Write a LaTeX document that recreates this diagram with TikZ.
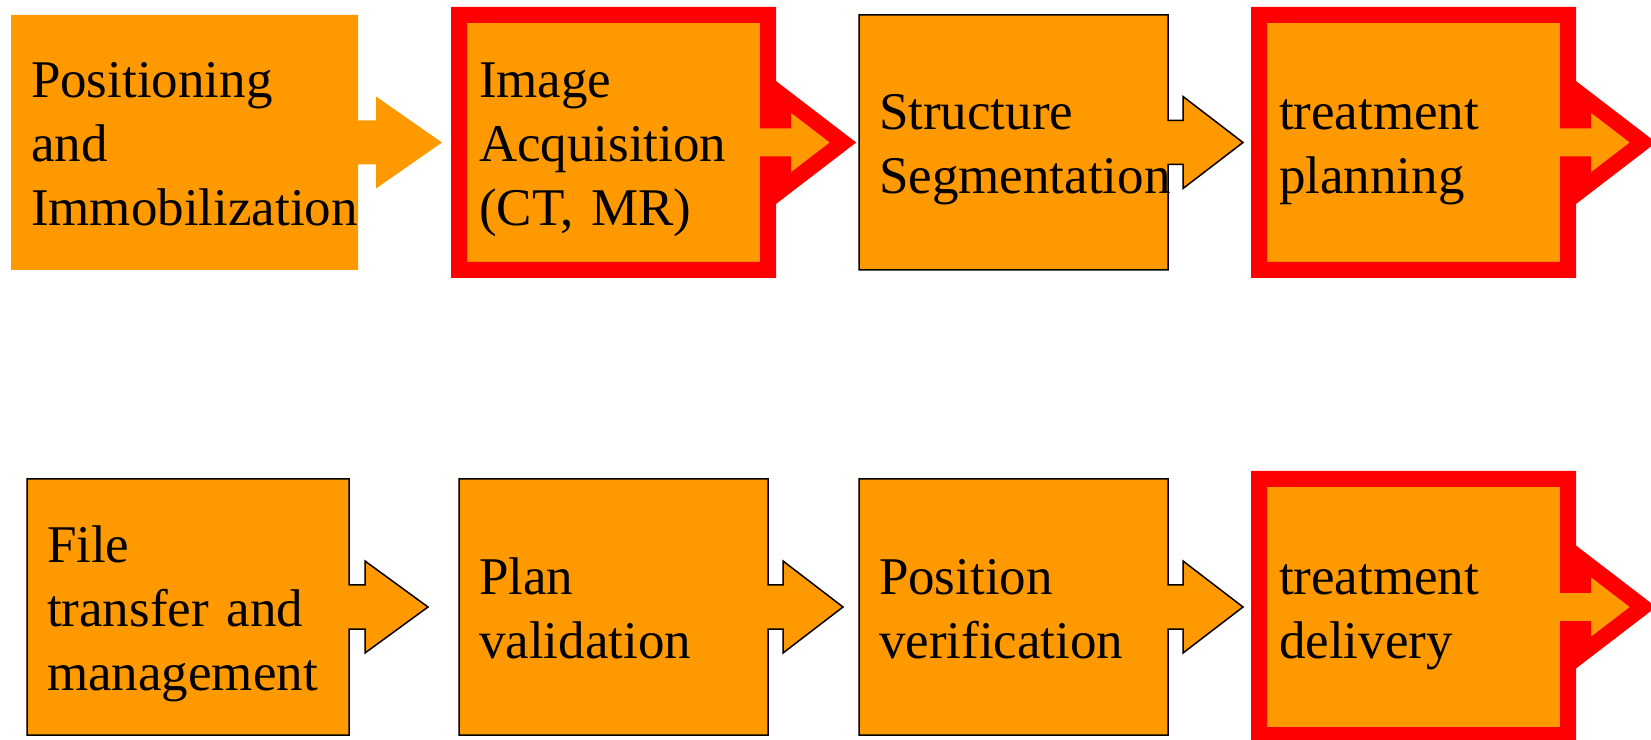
\documentclass[tikz,border=0pt]{standalone}
\usepackage{fontspec}
\setmainfont{Liberation Serif}
\usepackage{tikz}
\usetikzlibrary{positioning}
\usetikzlibrary{backgrounds}
\definecolor{steporange}{RGB}{255,153,0}
\definecolor{stepred}{RGB}{255,0,0}
\newcommand{\linestrut}{\rule[-12.5pt]{0pt}{64pt}}
\newcommand{\stepshape}[4]{%
  \path[#2] (#1.north west) -- (#1.north east) -- ([yshift=22pt]#1.east)
    -- ([shift={(#3,22pt)}]#1.east) -- ([shift={(#3,46pt)}]#1.east)
    -- ([xshift=#4]#1.east) -- ([shift={(#3,-46pt)}]#1.east)
    -- ([shift={(#3,-22pt)}]#1.east) -- ([yshift=-22pt]#1.east)
    -- (#1.south east) -- (#1.south west) -- cycle;}

\begin{document}
\begin{tikzpicture}[x=1pt,y=1pt,
            every node/.style={rectangle,draw=none,inner sep=0pt,inner xsep=20pt,outer sep=0pt,
                align=left,text width=269pt,minimum height=255pt,
                font=\fontsize{53}{64}\selectfont,
                execute at begin node=\linestrut,execute at end node=\linestrut},
            plain box/.style={fill=steporange},
            black box/.style={fill=steporange,draw=black,line width=1.5pt},
            red box/.style={fill=steporange,draw=stepred,line width=16pt}
        ]
        \useasboundingbox (0,0) rectangle (1651,739);
        \node [text width=307pt] (positioning) at (184.5,596.5) {Positioning\\and\\Immobilization};
        \node [right=101pt of positioning] (acquisition) {Image\\Acquisition\\(CT, MR)};
        \node [right=91pt of acquisition] (segmentation) {Structure\\Segmentation};
        \node [right=91pt of segmentation] (planning) {treatment\\planning};
        \node [text width=282pt,minimum height=256pt] (transfer) at (188,132) {File\\transfer and\\management};
        \node [right=110pt of transfer,minimum height=256pt] (validation) {Plan\\validation};
        \node [right=91pt of validation,minimum height=256pt] (verification) {Position\\verification};
        \node [right=91pt of verification,minimum height=256pt] (delivery) {treatment\\delivery};

        \begin{scope}[on background layer]
            \stepshape{positioning}{plain box}{18pt}{84pt}
            \stepshape{acquisition}{red box}{15pt}{75pt}
            \stepshape{segmentation}{black box}{15pt}{75pt}
            \stepshape{planning}{red box}{15pt}{75pt}
            \stepshape{transfer}{black box}{16pt}{79pt}
            \stepshape{validation}{black box}{15pt}{75pt}
            \stepshape{verification}{black box}{15pt}{75pt}
            \stepshape{delivery}{red box}{15pt}{75pt}
        \end{scope}
    \end{tikzpicture}
\end{document}
